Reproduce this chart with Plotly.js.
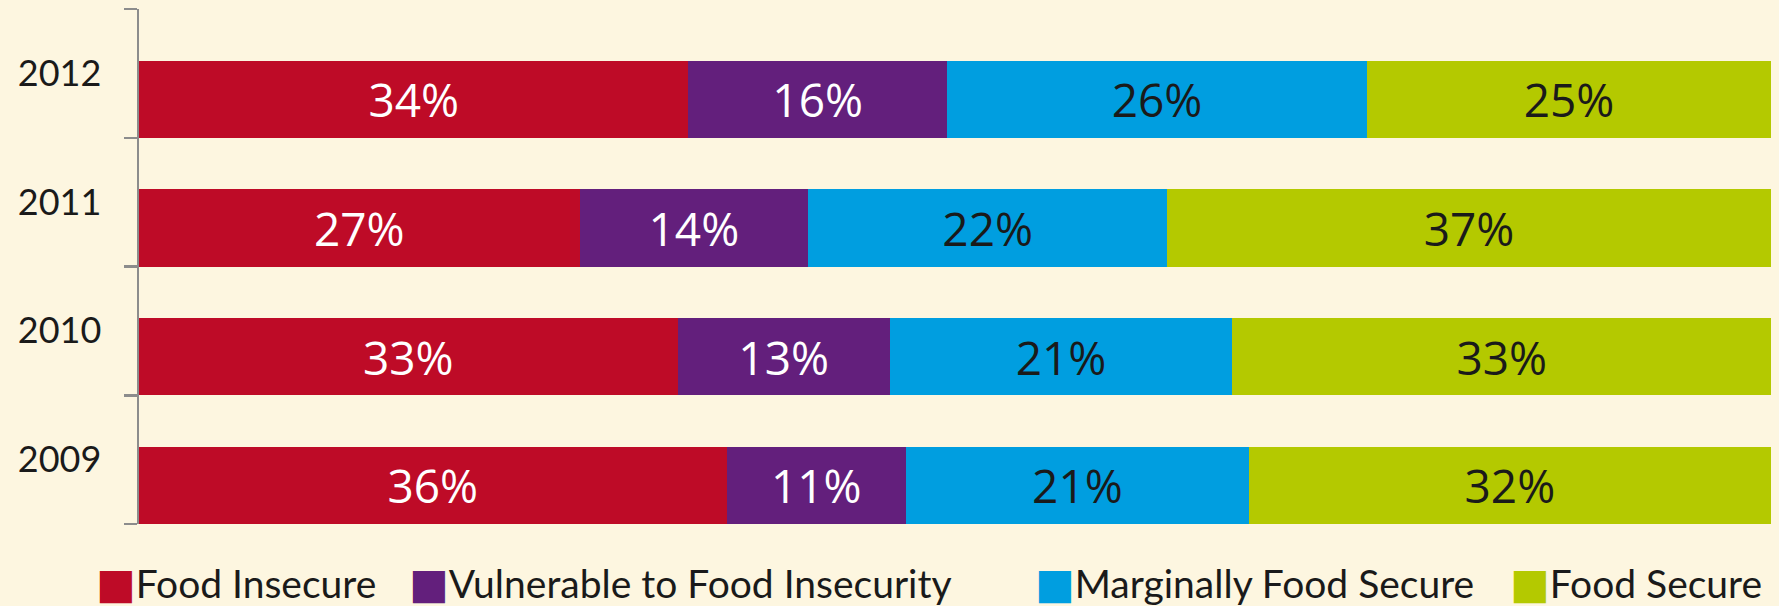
<!DOCTYPE html>
<html>
<head>
<meta charset="utf-8">
<script src="https://cdn.plot.ly/plotly-3.0.1.min.js"></script>
<style>html,body{margin:0;padding:0;background:#FDF6E0;}#chart{width:1779px;height:606px;}</style>
</head>
<body>
<div id="chart"></div>
<script>
const years = ['2009', '2010', '2011', '2012'];
const foodInsecure = [36, 33, 27, 34];
const vulnerable = [11, 13, 14, 16];
const marginal = [21, 21, 22, 26];
const foodSecure = [32, 33, 37, 25];
const seriesNames = ['Food Insecure', 'Vulnerable to Food Insecurity', 'Marginally Food Secure', 'Food Secure'];
const seriesColors = ['#BE0B27', '#631F7C', '#009EE0', '#B4C900'];
const textColors = ['#FFFFFF', '#FFFFFF', '#1A1A1A', '#1A1A1A'];
const legendX = [56, 369, 995, 1470];

const allValues = [foodInsecure, vulnerable, marginal, foodSecure];
const legendIds = ['legend', 'legend2', 'legend3', 'legend4'];

const barTraces = allValues.map((vals, i) => ({
  type: 'bar',
  orientation: 'h',
  name: seriesNames[i],
  y: years,
  x: vals,
  text: vals.map(v => v + '%'),
  textposition: 'inside',
  insidetextanchor: 'middle',
  constraintext: 'none',
  textfont: {family: 'Open Sans, sans-serif', size: 46, color: textColors[i]},
  marker: {color: seriesColors[i], line: {width: 0}},
  width: 0.6,
  offset: -0.5,
  hoverinfo: 'none',
  showlegend: false
}));

// legend-only entries: the swatch is drawn as a large square glyph in the series colour
const legendTraces = seriesNames.map((nm, i) => ({
  type: 'scatter',
  mode: 'markers',
  name: '<span style="color:' + seriesColors[i] + ';font-family:\'DejaVu Sans\';font-size:42px">■</span>' + nm,
  x: [null],
  y: [null],
  marker: {symbol: 'square', size: 10, color: 'rgba(0,0,0,0)', line: {width: 0, color: 'rgba(0,0,0,0)'}},
  hoverinfo: 'none',
  showlegend: true,
  legend: legendIds[i]
}));

const legendBase = {
  orientation: 'h',
  xref: 'container', yref: 'container',
  yanchor: 'middle', y: 23 / 606,
  bgcolor: 'rgba(0,0,0,0)',
  font: {family: 'Lato, sans-serif', size: 39, color: '#1A1A1A'},
  itemclick: false
};
const layout = {
  width: 1779, height: 606,
  paper_bgcolor: '#FDF6E0', plot_bgcolor: '#FDF6E0',
  margin: {l: 139, r: 8, t: 9, b: 82},
  barmode: 'stack',
  barnorm: 'percent',
  showlegend: true,
  xaxis: {range: [0, 100], showgrid: false, zeroline: false, showline: false, showticklabels: false, ticks: ''},
  yaxis: {
    type: 'category', categoryorder: 'array', categoryarray: years,
    range: [-0.5, 3.5],
    showgrid: false, zeroline: false,
    showline: true, linecolor: '#8C8C8C', linewidth: 2.5,
    ticks: 'outside', tickson: 'boundaries', ticklen: 13, tickwidth: 2.5, tickcolor: '#8C8C8C',
    ticklabelstandoff: 28,
    tickfont: {family: 'Lato, sans-serif', size: 36, color: '#1A1A1A'}
  }
};
legendX.forEach((lx, i) => {
  layout[legendIds[i]] = Object.assign({}, legendBase, {x: lx / 1779});
});
Plotly.newPlot('chart', barTraces.concat(legendTraces), layout, {displayModeBar: false, staticPlot: true});
</script>
</body>
</html>
